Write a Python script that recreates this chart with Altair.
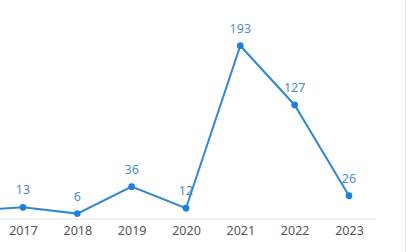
import altair as alt
import pandas as pd

years = [2016, 2017, 2018, 2019, 2020, 2021, 2022, 2023]
values = [9, 13, 6, 36, 12, 193, 127, 26]
tick_years = [2017, 2018, 2019, 2020, 2021, 2022, 2023]

df = pd.DataFrame({"year": years, "value": values})
lab = df[df["year"] >= 2017]

W, H = 407, 219
xdom = [2016.577, 2024.068]
ydom = [0, 243.9]

xaxis = alt.Axis(values=tick_years, format="d", title=None, domain=False, ticks=False,
                 grid=False, labelColor="#555555", labelFontSize=12.5,
                 labelFont="Microsoft YaHei, Noto Sans, DejaVu Sans", labelPadding=5,
                 labelFlush=False)
xscale = alt.Scale(domain=xdom, nice=False, zero=False)
yscale = alt.Scale(domain=ydom, nice=False)
x = alt.X("year:Q", scale=xscale, axis=xaxis)
y = alt.Y("value:Q", scale=yscale, axis=None)

axis_rule = alt.Chart(pd.DataFrame({"year": [2016.577], "b": [2023.5], "value": [0]})).mark_rule(
    color="#e3e3e3", strokeWidth=1).encode(x=x, x2="b:Q", y=y)

right_rule = alt.Chart(pd.DataFrame({"a": [0]})).mark_rule(color="#ececec", strokeWidth=1).encode(
    x=alt.value(405.5), y=alt.value(0), y2=alt.value(252))

line = alt.Chart(df).mark_line(color="#2f87d6", strokeWidth=2, clip=False).encode(x=x, y=y)
pts = alt.Chart(lab).mark_point(filled=True, color="#1f7fde", size=45, opacity=1).encode(x=x, y=y)
txt = alt.Chart(lab).mark_text(dy=-17, color="#4a8fc8", fontSize=12.5,
                                font="Microsoft YaHei, Noto Sans, DejaVu Sans").encode(
    x=x, y=y, text="value:Q")

chart = alt.layer(axis_rule, right_rule, line, pts, txt).properties(
    width=W, height=H, padding={"left": 0, "top": 0, "right": 0, "bottom": 33},
    autosize=alt.AutoSizeParams(type="none")
).configure(background="white").configure_view(stroke=None)

chart.save("out.html", embed_options={"renderer": "svg", "actions": False})
